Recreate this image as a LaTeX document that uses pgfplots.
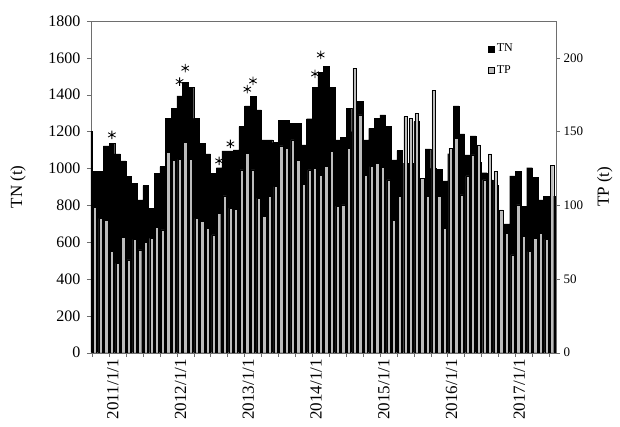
\documentclass[border=0pt]{standalone}
\usepackage{pgfplots}
\pgfplotsset{compat=1.18}
\usepackage{pgfplotstable}
\usepackage{fontspec}
\setmainfont{Liberation Serif}

\pgfplotstableread{
k tn
-1 1200
0 983
1 983
2 1122
3 1137
4 1079
5 1041
6 956
7 919
8 829
9 907
10 784
11 974
12 1010
13 1272
14 1327
15 1394
16 1466
17 1441
18 1272
19 1137
20 1079
21 974
22 1004
23 1095
24 1095
25 1100
26 1227
27 1339
28 1390
29 1318
30 1155
31 1155
32 1140
33 1260
34 1260
35 1245
36 1245
37 1128
38 1270
39 1441
40 1520
41 1553
42 1441
43 1155
44 1169
45 1327
46 1200
47 1363
48 1155
49 1218
50 1272
51 1290
52 1227
53 1046
54 1097
55 1028
56 1028
57 1254
58 947
59 1106
60 1000
61 995
62 932
63 1080
64 1339
65 1187
66 1073
67 1176
68 1032
69 977
70 938
71 910
72 639
73 699
74 959
75 983
76 793
77 1004
78 952
79 829
80 847
81 850
}\tntable

\pgfplotstableread{
k tp
0 98.6
1 91.2
2 89.6
3 68.6
4 60.6
5 78.3
6 62.9
7 76.9
8 69.7
9 74.7
10 77.6
11 84.8
12 83.3
13 135.7
14 130.3
15 131.2
16 142.5
17 131.2
18 91.2
19 88.9
20 84.4
21 79.9
22 94.6
23 106.3
24 98.0
25 97.3
26 124.0
27 135.3
28 124.0
29 104.8
30 92.3
31 105.9
32 112.7
33 140.3
34 138.7
35 144.3
36 130.3
37 114.3
38 124.0
39 125.1
40 120.1
41 126.2
42 136.4
43 99.5
44 100.2
45 138.7
46 193.0
47 161.3
48 120.1
49 126.2
50 128.5
51 125.8
52 117.2
53 89.6
54 105.9
55 160.2
56 159.0
57 162.4
58 118.3
59 105.9
60 177.8
61 105.9
62 84.4
63 138.7
64 145.5
65 107.0
66 119.9
67 134.2
68 141.0
69 117.2
70 134.8
71 122.9
72 96.8
73 81.0
74 66.3
75 100.2
76 78.7
77 68.6
78 77.6
79 81.0
80 76.9
81 126.9
}\tptable

\definecolor{tpgray}{RGB}{188,188,188}
\definecolor{framegray}{RGB}{110,110,110}

\begin{document}
\begin{tikzpicture}
\begin{axis}[
  scale only axis, width=465pt, height=331.7pt,
  xmin=-0.7, xmax=81.7, ymin=0, ymax=1800,
  ytick={0,200,...,1800},
  xtick={-0.5,2.5,...,80.5}, xticklabels={},
  extra x ticks={3,15,27,39,51,63,75},
  extra x tick labels={2011/1/1,2012/1/1,2013/1/1,2014/1/1,2015/1/1,2016/1/1,2017/1/1},
  extra x tick style={major tick length=0pt,
     tick label style={rotate=90, anchor=east, font=\fontsize{17}{17}\selectfont, yshift=-1pt, xshift=-3pt}},
  xtick pos=bottom, ytick pos=left,
  tick align=outside, major tick length=4pt,
  axis line style={framegray},
  every tick/.style={framegray},
  yticklabel style={font=\fontsize{16}{16}\selectfont, xshift=-3pt},
  /pgf/number format/assume math mode=true,
  /pgf/number format/1000 sep={},
  ylabel={TN (t)},
  every axis y label/.style={at={(axis description cs:-0.157,0.5)}, rotate=90, anchor=center, font=\fontsize{17}{17}\selectfont},
  clip=true,
]
\addplot[ybar, bar width=1, fill=black, draw=black, line width=0.3pt] table[x=k,y=tn]{\tntable};
\addplot[only marks, mark=asterisk, mark size=4.3pt, black, line width=0.8pt] coordinates {
(3,1182) (15,1471) (16,1544) (22,1041) (24,1133) (27,1430) (28,1475) (39,1513) (40,1616)};
\end{axis}
\begin{axis}[
  scale only axis, width=465pt, height=331.7pt,
  xmin=-0.7, xmax=81.7, ymin=0, ymax=225,
  axis x line=none, axis y line*=right,
  ytick={0,50,...,200},
  tick align=outside, major tick length=4pt,
  axis line style={framegray},
  every tick/.style={framegray},
  yticklabel style={font=\fontsize{13}{13}\selectfont},
  /pgf/number format/assume math mode=true,
  ylabel={TP (t)},
  every axis y label/.style={at={(axis description cs:1.105,0.5)}, rotate=90, anchor=center, font=\fontsize{17}{17}\selectfont},
  legend style={at={(axis description cs:0.852,0.94)}, anchor=north west, draw=none, fill=none,
     font=\fontsize{12}{12}\selectfont, row sep=8pt, inner sep=1pt},
  legend cell align=left,
  legend image code/.code={\draw[#1] (0pt,-3pt) rectangle (6pt,3pt);},
]
\addlegendimage{fill=black, draw=black}
\addlegendentry{TN}
\addplot[ybar, bar width=0.58, fill=tpgray, draw=black, line width=0.4pt] table[x=k,y=tp]{\tptable};
\addlegendentry{TP}
\end{axis}
\pgfresetboundingbox
\path[use as bounding box] (-91pt,-73.3pt) rectangle (529pt,352.7pt);
\end{tikzpicture}
\end{document}
